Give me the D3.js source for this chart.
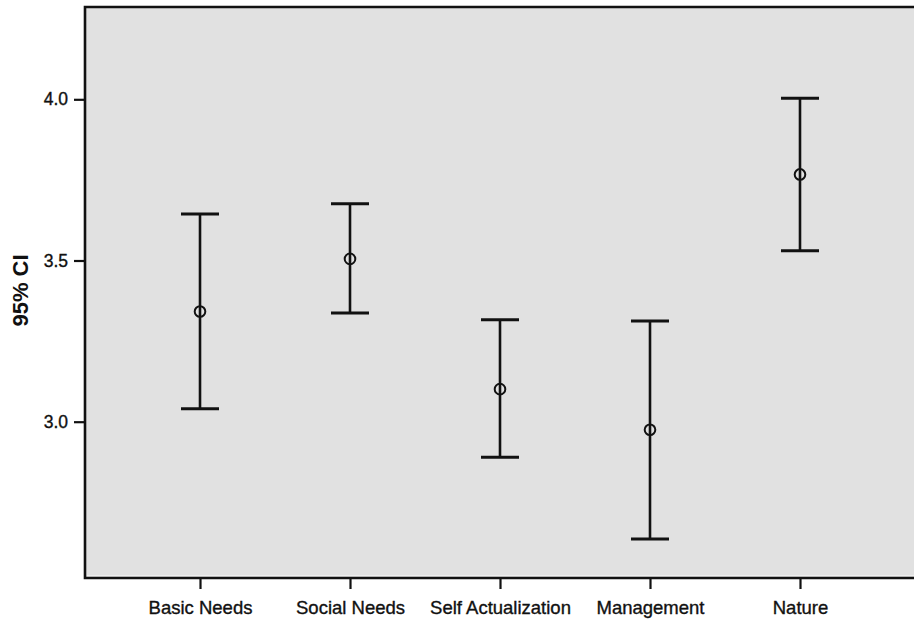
<!DOCTYPE html>
<html>
<head>
<meta charset="utf-8">
<script src="https://cdn.jsdelivr.net/npm/d3@7"></script>
<style>
  html, body { margin: 0; padding: 0; background: #ffffff; }
  svg { display: block; }
</style>
</head>
<body>
<script>
const categories = ["Basic Needs", "Social Needs", "Self Actualization", "Management", "Nature"];
const means = [3.342, 3.505, 3.101, 2.975, 3.767];
const lower = [3.040, 3.337, 2.890, 2.636, 3.530];
const upper = [3.644, 3.676, 3.316, 3.312, 4.003];
const yTicks = [3.0, 3.5, 4.0];
const yTitle = "95% CI";

const W = 914, H = 619;
const pLeft = 85, pRight = 915, pTop = 7, pBottom = 578;

const svg = d3.select("body").append("svg").attr("width", W).attr("height", H);

const x = d3.scalePoint().domain(categories).range([pLeft, pRight]).padding(0.7667);
const y = d3.scaleLinear().domain([2.5152, 4.2863]).range([pBottom, pTop]);

// plot background
svg.append("rect").attr("x", pLeft).attr("y", pTop)
  .attr("width", pRight - pLeft).attr("height", pBottom - pTop)
  .attr("fill", "#e1e1e1");

// thin white inner line above bottom axis
svg.append("line").attr("x1", pLeft + 2).attr("x2", pRight).attr("y1", pBottom - 2.2).attr("y2", pBottom - 2.2)
  .attr("stroke", "#f4f4f4").attr("stroke-width", 1);

// frame: top, left, bottom
svg.append("path")
  .attr("d", `M${pRight},${pTop}H${pLeft}V${pBottom}H${pRight}`)
  .attr("fill", "none").attr("stroke", "#111").attr("stroke-width", 2.6);

const fontFam = "'Liberation Sans', Arial, sans-serif";

// y axis
const yAxis = d3.axisLeft(y).tickValues(yTicks).tickFormat(d3.format(".1f")).tickSize(10).tickPadding(6);
const gy = svg.append("g").attr("transform", `translate(${pLeft - 1},0)`).call(yAxis);
gy.select(".domain").remove();
gy.selectAll(".tick line").attr("stroke", "#111").attr("stroke-width", 2.2);
gy.selectAll(".tick text").attr("fill", "#111")
  .attr("stroke", "#111").attr("stroke-width", 0.35)
  .style("font-family", fontFam).style("font-size", "17.5px");

// x axis
const xAxis = d3.axisBottom(x).tickSize(10).tickPadding(12);
const gx = svg.append("g").attr("transform", `translate(0,${pBottom + 1})`).call(xAxis);
gx.select(".domain").remove();
gx.selectAll(".tick line").attr("stroke", "#111").attr("stroke-width", 2.2);
gx.selectAll(".tick text").attr("fill", "#111")
  .attr("stroke", "#111").attr("stroke-width", 0.35)
  .style("font-family", fontFam).style("font-size", "18.5px");

// y title
svg.append("text")
  .attr("transform", `translate(28,${(y(3.5) + 30)}) rotate(-90)`)
  .attr("text-anchor", "middle")
  .style("font-family", fontFam)
  .style("font-size", "22px").style("font-weight", "bold").attr("fill", "#111")
  .text(yTitle);

// error bars
const capHalf = 19;
const g = svg.append("g");
categories.forEach((c, i) => {
  const cx = x(c);
  g.append("line").attr("x1", cx).attr("x2", cx).attr("y1", y(upper[i])).attr("y2", y(lower[i]))
    .attr("stroke", "#111").attr("stroke-width", 2.6);
  [upper[i], lower[i]].forEach(v => {
    g.append("line").attr("x1", cx - capHalf).attr("x2", cx + capHalf).attr("y1", y(v)).attr("y2", y(v))
      .attr("stroke", "#111").attr("stroke-width", 3);
  });
  g.append("circle").attr("cx", cx).attr("cy", y(means[i])).attr("r", 5.3)
    .attr("fill", "none").attr("stroke", "#111").attr("stroke-width", 2);
});
</script>
</body>
</html>
